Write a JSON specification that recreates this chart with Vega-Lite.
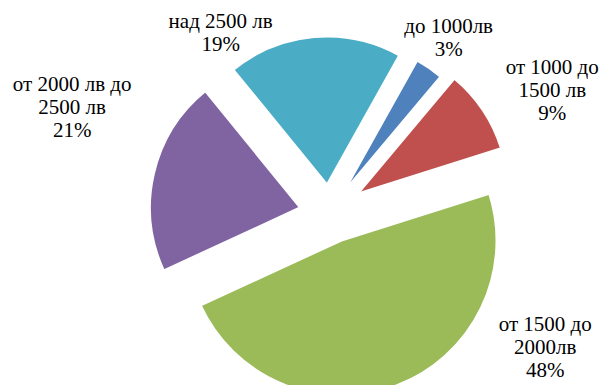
{
  "$schema": "https://vega.github.io/schema/vega-lite/v6.json",
  "width": 600,
  "height": 385,
  "autosize": {"type": "none"},
  "padding": 0,
  "background": "white",
  "config": {"view": {"stroke": null}},
  "data": {"values": [
    {"cat": "до 1000лв", "pct": 3},
    {"cat": "от 1000 до 1500 лв", "pct": 9},
    {"cat": "от 1500 до 2000лв", "pct": 48},
    {"cat": "от 2000 лв до 2500 лв", "pct": 21},
    {"cat": "над 2500 лв", "pct": 19}
  ]},
  "transform": [
    {"window": [{"op": "sum", "field": "pct", "as": "t1"}], "frame": [null, 0]},
    {"calculate": "datum.t1 - datum.pct", "as": "t0"},
    {"calculate": "(datum.t0 + datum.t1) / 2", "as": "mid"},
    {"calculate": "split(replace(datum.cat, ' до ', ' до|') + '|' + datum.pct + '%', '|')", "as": "label"}
  ],
  "encoding": {
    "color": {"field": "cat", "type": "nominal", "legend": null,
      "scale": {"domain": ["до 1000лв", "от 1000 до 1500 лв", "от 1500 до 2000лв", "от 2000 лв до 2500 лв", "над 2500 лв"],
                "range": ["#4F81BD", "#C0504D", "#9BBB59", "#8064A2", "#4BACC6"]}}
  },
  "layer": [
    {"transform": [{"filter": {"field": "cat", "equal": "до 1000лв"}}],
     "mark": {"type": "arc", "outerRadius": 150, "xOffset": 44, "yOffset": -1, "stroke": "white", "strokeWidth": 2},
     "encoding": {"theta": {"field": "t0", "type": "quantitative", "scale": {"domain": [0, 100], "range": [0.51, 6.7932]}}, "theta2": {"field": "t1"}}},
    {"transform": [{"filter": {"field": "cat", "equal": "от 1000 до 1500 лв"}}],
     "mark": {"type": "arc", "outerRadius": 150, "xOffset": 58, "yOffset": 1, "stroke": "white", "strokeWidth": 2},
     "encoding": {"theta": {"field": "t0", "type": "quantitative", "scale": {"domain": [0, 100], "range": [0.51, 6.7932]}}, "theta2": {"field": "t1"}}},
    {"transform": [{"filter": {"field": "cat", "equal": "от 1500 до 2000лв"}}],
     "mark": {"type": "arc", "outerRadius": 155, "xOffset": 41.5, "yOffset": 48, "stroke": "white", "strokeWidth": 2},
     "encoding": {"theta": {"field": "t0", "type": "quantitative", "scale": {"domain": [0, 100], "range": [0.51, 6.7932]}}, "theta2": {"field": "t1"}}},
    {"transform": [{"filter": {"field": "cat", "equal": "от 2000 лв до 2500 лв"}}],
     "mark": {"type": "arc", "outerRadius": 150, "xOffset": 0, "yOffset": 15, "stroke": "white", "strokeWidth": 2},
     "encoding": {"theta": {"field": "t0", "type": "quantitative", "scale": {"domain": [0, 100], "range": [0.51, 6.7932]}}, "theta2": {"field": "t1"}}},
    {"transform": [{"filter": {"field": "cat", "equal": "над 2500 лв"}}],
     "mark": {"type": "arc", "outerRadius": 148, "xOffset": 27, "yOffset": -8, "stroke": "white", "strokeWidth": 2},
     "encoding": {"theta": {"field": "t0", "type": "quantitative", "scale": {"domain": [0, 100], "range": [0.51, 6.7932]}}, "theta2": {"field": "t1"}}},
    {"transform": [{"filter": {"field": "cat", "equal": "до 1000лв"}}],
     "mark": {"type": "text", "radius": 200, "dx": 35, "dy": -1, "font": "Liberation Serif", "fontSize": 21, "lineHeight": 23, "align": "center", "baseline": "middle"},
     "encoding": {"theta": {"field": "mid", "type": "quantitative"}, "text": {"field": "label"}, "color": {"value": "black"}}},
    {"transform": [{"filter": {"field": "cat", "equal": "от 1000 до 1500 лв"}}],
     "mark": {"type": "text", "radius": 200, "dx": 86, "dy": -13, "font": "Liberation Serif", "fontSize": 21, "lineHeight": 23, "align": "center", "baseline": "middle"},
     "encoding": {"theta": {"field": "mid", "type": "quantitative"}, "text": {"field": "label"}, "color": {"value": "black"}}},
    {"transform": [{"filter": {"field": "cat", "equal": "от 1500 до 2000лв"}}],
     "mark": {"type": "text", "radius": 200, "dx": 173, "dy": -54, "font": "Liberation Serif", "fontSize": 21, "lineHeight": 23, "align": "center", "baseline": "middle"},
     "encoding": {"theta": {"field": "mid", "type": "quantitative"}, "text": {"field": "label"}, "color": {"value": "black"}}},
    {"transform": [{"filter": {"field": "cat", "equal": "от 2000 лв до 2500 лв"}}],
     "mark": {"type": "text", "radius": 200, "dx": -33, "dy": -62, "font": "Liberation Serif", "fontSize": 21, "lineHeight": 23, "align": "center", "baseline": "middle"},
     "encoding": {"theta": {"field": "mid", "type": "quantitative"}, "text": {"field": "label"}, "color": {"value": "black"}}},
    {"transform": [{"filter": {"field": "cat", "equal": "над 2500 лв"}}],
     "mark": {"type": "text", "radius": 200, "dx": -62, "dy": 29, "font": "Liberation Serif", "fontSize": 21, "lineHeight": 23, "align": "center", "baseline": "middle"},
     "encoding": {"theta": {"field": "mid", "type": "quantitative"}, "text": {"field": "label"}, "color": {"value": "black"}}}
  ]
}
